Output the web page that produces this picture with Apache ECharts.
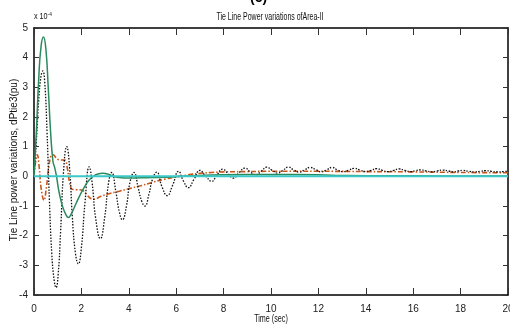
<!DOCTYPE html>
<html><head><meta charset="utf-8">
<script src="https://cdn.jsdelivr.net/npm/echarts@6/dist/echarts.min.js"></script>
<style>html,body{margin:0;padding:0;background:#fff}#c{width:510px;height:326px}</style>
</head><body><div id="c"></div>
<script>
const xTicks = [0,2,4,6,8,10,12,14,16,18,20];
const yTicks = [-4,-3,-2,-1,0,1,2,3,4,5];

const blackT = [0,0.1,0.2,0.3,0.37,0.45,0.55,0.65,0.75,0.85,0.93,1.02,1.12,1.25,1.38,1.5,1.62,1.75,1.87,2.0,2.15,2.33,2.45,2.6,2.8,2.98,3.15,3.28,3.45,3.6,3.73,3.9,4.05,4.22,4.4,4.55,4.68,4.85,5.0,5.18,5.4,5.62,5.85,6.1,6.3,6.51,6.75,7.0,7.25,7.5,7.72,7.96,8.2,8.41,8.65,8.9,9.12,9.35,9.6,9.82,10.05,10.28,10.5,10.73,10.95,11.2,11.42,11.65,11.9,12.12,12.35,12.58,12.8,13.05,13.28,13.5,13.75,14.0,14.22,14.46,14.7,14.95,15.18,15.4,15.65,15.9,16.1,16.3,16.55,16.8,17.0,17.25,17.5,17.7,17.9,18.1,18.35,18.6,18.85,19.05,19.3,19.55,19.8,20];
const blackV = [0,1.2,2.6,3.4,3.55,3.2,1.5,-0.8,-2.6,-3.5,-3.75,-3.3,-1.9,0.2,1.0,0.3,-1.4,-2.6,-2.95,-2.4,-0.9,0.32,-0.2,-1.4,-2.1,-1.4,-0.2,0.13,-0.5,-1.2,-1.46,-1.0,-0.2,0.13,-0.4,-0.85,-1.0,-0.6,-0.1,0.14,-0.35,-0.65,-0.3,0.17,-0.15,-0.38,-0.1,0.2,0.0,-0.17,0.05,0.24,0.08,-0.06,0.12,0.28,0.15,0.05,0.18,0.31,0.2,0.11,0.2,0.31,0.22,0.14,0.22,0.3,0.22,0.15,0.22,0.3,0.22,0.16,0.21,0.27,0.21,0.16,0.2,0.26,0.2,0.16,0.2,0.25,0.2,0.16,0.19,0.22,0.18,0.15,0.18,0.21,0.18,0.15,0.18,0.2,0.17,0.15,0.17,0.19,0.17,0.15,0.16,0.17];

const greenT = [0,0.1,0.2,0.3,0.4,0.5,0.6,0.7,0.8,0.87,0.95,1.05,1.2,1.35,1.45,1.55,1.7,1.9,2.1,2.3,2.5,2.7,2.9,3.1,3.3,3.6,4.0,4.5,5.0,5.5,6.0,7,8,10,12,13,14,16,18,20];
const greenV = [0,1.5,3.3,4.4,4.7,4.3,3.0,1.5,0.5,0.3,0.0,-0.5,-1.0,-1.3,-1.39,-1.3,-1.05,-0.7,-0.4,-0.15,0.0,0.08,0.1,0.08,0.02,-0.04,-0.06,-0.05,-0.04,-0.03,-0.01,0.03,0.05,0.06,0.05,0.03,0.02,0.02,0.01,0.01];

const orangeT = [0,0.07,0.14,0.22,0.3,0.42,0.52,0.62,0.72,0.81,0.95,1.1,1.3,1.4,1.5,1.6,1.8,2.0,2.2,2.4,2.55,2.8,3.2,3.6,4.0,4.5,5.0,5.5,6.0,6.5,7.0,7.5,8.0,9,10,12,14,16,18,20];
const orangeV = [0,0.5,0.73,0.3,-0.4,-0.81,-0.4,0.3,0.7,0.73,0.6,0.55,0.55,0.3,-0.2,-0.43,-0.45,-0.46,-0.6,-0.75,-0.77,-0.68,-0.58,-0.5,-0.42,-0.32,-0.2,-0.1,-0.02,0.05,0.1,0.13,0.15,0.16,0.17,0.17,0.16,0.15,0.13,0.12];

const cyanT = [0,20];
const cyanV = [0,0];

const zip = (a,b) => a.map((t,i)=>[t,b[i]]);
const FONT = "'Liberation Sans Narrow','Liberation Sans',Arial,sans-serif";

const chart = echarts.init(document.getElementById('c'));
chart.setOption({
  animation:false,
  backgroundColor:'#fff',
  grid:{left:34,right:2,top:28,bottom:31,containLabel:false,outerBoundsMode:'none'},
  xAxis:[{
    type:'value',min:0,max:20,interval:2,
    axisLine:{show:true,onZero:false,lineStyle:{color:'#000',width:1.5}},
    axisTick:{show:true,inside:true,length:7,lineStyle:{color:'#333'}},
    axisLabel:{color:'#222',fontSize:10,fontFamily:FONT,margin:9,hideOverlap:false,
      formatter:v=>xTicks.includes(v)?String(v):''},
    splitLine:{show:false}
  },{
    type:'value',min:0,max:20,interval:2,position:'top',
    axisLine:{show:true,onZero:false,lineStyle:{color:'#000',width:1.5}},
    axisTick:{show:true,inside:true,length:7,lineStyle:{color:'#333'}},
    axisLabel:{show:false},splitLine:{show:false}
  }],
  yAxis:[{
    type:'value',min:-4,max:5,interval:1,
    axisLine:{show:true,onZero:false,lineStyle:{color:'#000',width:1.5}},
    axisTick:{show:true,inside:true,length:5,lineStyle:{color:'#333'}},
    axisLabel:{color:'#222',fontSize:10,fontFamily:FONT,margin:6,
      formatter:v=>yTicks.includes(v)?String(v):''},
    splitLine:{show:false}
  },{
    type:'value',min:-4,max:5,interval:1,position:'right',
    axisLine:{show:true,onZero:false,lineStyle:{color:'#000',width:1.5}},
    axisTick:{show:true,inside:true,length:5,lineStyle:{color:'#333'}},
    axisLabel:{show:false},splitLine:{show:false}
  }],
  series:[
    {type:'line',data:zip(orangeT,orangeV),smooth:0.4,symbol:'none',
      lineStyle:{color:'#c8561a',width:1.6,type:[5,2,1.5,2]}},
    {type:'line',data:zip(blackT,blackV),smooth:0.5,symbol:'none',
      lineStyle:{color:'#111',width:1.3,type:[1.5,1.5]}},
    {type:'line',data:zip(greenT,greenV),smooth:0.5,symbol:'none',
      lineStyle:{color:'#2a8a5c',width:1.5}},
    {type:'line',data:zip(cyanT,cyanV),symbol:'none',
      lineStyle:{color:'#3cc8c8',width:2}}
  ],
  graphic:[
    {type:'text',x:250,y:-9,style:{text:'(c)',fontSize:14,fontWeight:'bold',fill:'#000',fontFamily:FONT}},
    {type:'text',x:270,y:17,scaleX:0.7,style:{text:'Tie Line Power variations ofArea-II',fontSize:10,fontFamily:FONT,fill:'#111',align:'center',verticalAlign:'middle'}},
    {type:'text',x:34,y:17,scaleX:0.8,style:{text:'x 10{s|-4}',fontSize:9,fontFamily:FONT,fill:'#111',verticalAlign:'middle',
      rich:{s:{fontSize:6,fontFamily:FONT,fill:'#111',verticalAlign:'bottom',padding:[0,0,6,0]}}}},
    {type:'text',x:14,y:160,rotation:Math.PI/2,style:{text:'Tie Line power variations, dPtie3(pu)',fontSize:10,fontFamily:FONT,fill:'#111',align:'center',verticalAlign:'middle'}},
    {type:'text',x:271,y:319,scaleX:0.72,style:{text:'Time (sec)',fontSize:10,fontFamily:FONT,fill:'#111',align:'center',verticalAlign:'middle'}}
  ]
});
</script></body></html>
